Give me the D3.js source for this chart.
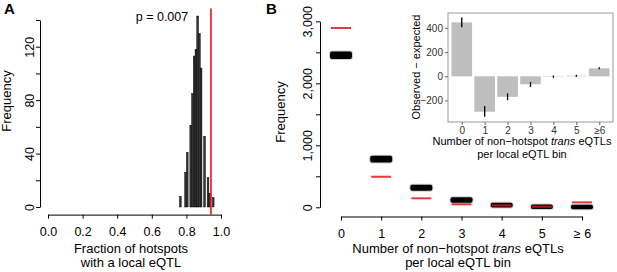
<!DOCTYPE html>
<html><head><meta charset="utf-8">
<script src="https://cdn.jsdelivr.net/npm/d3@7"></script>
<style>
body{margin:0;background:#fff;}
svg{font-family:"Liberation Sans",Arial,Helvetica,sans-serif;}
</style></head>
<body><svg id="c" width="617" height="272"></svg>
<script>
// ---------- Panel A data ----------
const histBinStarts = [0.75,0.76,0.77,0.78,0.79,0.80,0.81,0.82,0.83,0.84,0.85,0.86,0.87,0.88,0.89,0.90,0.91,0.92,0.93,0.94,0.95];
const histCounts    = [0,   8,   0,   0,   26,  41,  0,   61,  85,  113, 118, 143, 130, 104, 0,   53,  0,   22,  10,  0,   7];
const histBinWidth = 0.01;
const observedFraction = 0.942;
const pValueLabel = "p = 0.007";
const aXTicks = [0,0.2,0.4,0.6,0.8,1.0];
const aYTicks = [0,20,40,60,80,100,120,140];
const aYLabels = [0,40,80,120];

// ---------- Panel B data ----------
const bCategories = ["0","1","2","3","4","5","\u2265 6"];
const permutedMin = [2425,755,300,106,28,3,1];
const permutedMax = [2480,800,332,130,42,14,10];
const observedCounts = [2892,493,145,48,30,10,80];
const bYTicks = [0,500,1000,1500,2000,2500,3000];
const bYLabels = [0,1000,2000,3000];

// ---------- Inset data ----------
const insetCategories = ["0","1","2","3","4","5","\u22656"];
const diffValues = [447,-294,-170,-66,-3,5,66];
const diffLow    = [406,-335,-198,-88,-12,-3,58];
const diffHigh   = [488,-247,-142,-47,6,13,76];
const insetYTicks = [-200,0,200,400];

const svg = d3.select("#c");
const FS = 13;

// ================= Panel A =================
const xA = d3.scaleLinear().domain([0,1]).range([48,221]);
const yA = d3.scaleLinear().domain([0,140]).range([207,20]);
const aPlotBottom = yA(-5.7), aPlotTop = yA(148.7);

const gA = svg.append("g");
gA.selectAll("rect.bar").data(histBinStarts).join("rect")
  .attr("x", d=>xA(d)).attr("width", d=>xA(d+histBinWidth)-xA(d))
  .attr("y", (d,i)=>yA(histCounts[i])).attr("height",(d,i)=>yA(0)-yA(histCounts[i]))
  .attr("fill","#333").attr("stroke","#000").attr("stroke-width",0.45);

gA.append("line").attr("x1",xA(observedFraction)).attr("x2",xA(observedFraction))
  .attr("y1",aPlotTop).attr("y2",aPlotBottom).attr("stroke","#e8141b").attr("stroke-width",1.6);

gA.append("text").attr("x",162).attr("y",21).attr("text-anchor","middle")
  .attr("font-size",12.5).text(pValueLabel);

const axA_x = gA.append("g").attr("transform",`translate(0,${aPlotBottom})`)
  .call(d3.axisBottom(xA).tickValues(aXTicks).tickFormat(d3.format(".1f")).tickSize(4).tickSizeOuter(0).tickPadding(9));
const axA_y = gA.append("g").attr("transform",`translate(40,0)`)
  .call(d3.axisLeft(yA).tickValues(aYTicks).tickFormat(d=>aYLabels.includes(d)?d:"").tickSize(4).tickSizeOuter(0));
axA_y.selectAll("text").attr("transform","rotate(-90)").attr("x",0).attr("y",-6).attr("dy",0).attr("text-anchor","middle");

gA.append("text").attr("transform","translate(11,101) rotate(-90)").attr("text-anchor","middle")
  .attr("font-size",FS).text("Frequency");
gA.append("text").attr("x",131).attr("y",253).attr("text-anchor","middle").attr("font-size",FS).text("Fraction of hotspots");
gA.append("text").attr("x",131).attr("y",267).attr("text-anchor","middle").attr("font-size",FS).text("with a local eQTL");
svg.append("text").attr("x",4).attr("y",14).attr("font-size",15).attr("font-weight","bold").text("A");

// ================= Panel B =================
const xB = d3.scaleLinear().domain([0,6]).range([341,582]);
const yB = d3.scaleLinear().domain([0,3000]).range([207.3,21.3]);
const gB = svg.append("g");
const halfW = 11;

// soft halo of the many overlapping permutation lines
gB.selectAll("rect.halo").data(bCategories).join("rect")
  .attr("x",(d,i)=>xB(i)-halfW+2).attr("width",2*halfW-4)
  .attr("y",(d,i)=>yB(permutedMax[i])).attr("height",(d,i)=>Math.max(0.1,yB(permutedMin[i])-yB(permutedMax[i])))
  .attr("fill","#777").attr("stroke","#777").attr("stroke-width",6).attr("stroke-linejoin","round").attr("opacity",0.35);
gB.selectAll("rect.perm").data(bCategories).join("rect")
  .attr("x",(d,i)=>xB(i)-halfW+2).attr("width",2*halfW-4)
  .attr("y",(d,i)=>yB(permutedMax[i])).attr("height",(d,i)=>Math.max(0.1,yB(permutedMin[i])-yB(permutedMax[i])))
  .attr("fill","#000").attr("stroke","#000").attr("stroke-width",4).attr("stroke-linejoin","round");

gB.selectAll("line.obs").data(bCategories).join("line")
  .attr("x1",(d,i)=>xB(i)-10).attr("x2",(d,i)=>xB(i)+10)
  .attr("y1",(d,i)=>yB(observedCounts[i])).attr("y2",(d,i)=>yB(observedCounts[i]))
  .attr("stroke","#e8141b").attr("stroke-width",2).attr("opacity",0.85);

const axB_x = gB.append("g").attr("transform",`translate(0,216.5)`)
  .call(d3.axisBottom(xB).tickValues(d3.range(7)).tickFormat(i=>bCategories[i]).tickSize(4).tickSizeOuter(0).tickPadding(9));
const axB_y = gB.append("g").attr("transform",`translate(320,0)`)
  .call(d3.axisLeft(yB).tickValues(bYTicks).tickFormat(d=>bYLabels.includes(d)?d3.format(",")(d):"").tickSize(4).tickSizeOuter(0));
axB_y.selectAll("text").attr("transform","rotate(-90)").attr("x",0).attr("y",-8).attr("dy",0).attr("text-anchor","middle");

gB.append("text").attr("transform","translate(285,112) rotate(-90)").attr("text-anchor","middle")
  .attr("font-size",FS).text("Frequency");
const tB = gB.append("text").attr("x",458).attr("y",253).attr("text-anchor","middle").attr("font-size",FS);
tB.append("tspan").text("Number of non\u2212hotspot ");
tB.append("tspan").attr("font-style","italic").text("trans");
tB.append("tspan").text(" eQTLs");
gB.append("text").attr("x",458).attr("y",267).attr("text-anchor","middle").attr("font-size",FS).text("per local eQTL bin");
svg.append("text").attr("x",266).attr("y",14).attr("font-size",15).attr("font-weight","bold").text("B");

// ================= Inset =================
const xI = d3.scalePoint().domain(insetCategories).range([448,613]).padding(0.6);
const yI = d3.scaleLinear().domain([-379,525]).range([122,13]);
const gI = svg.append("g");
const bw = xI.step()*0.9;
gI.append("rect").attr("x",448).attr("y",13).attr("width",165).attr("height",109).attr("fill","#fff");
gI.selectAll("rect.ib").data(insetCategories).join("rect")
  .attr("x",d=>xI(d)-bw/2).attr("width",bw)
  .attr("y",(d,i)=>Math.min(yI(0),yI(diffValues[i]))).attr("height",(d,i)=>Math.abs(yI(diffValues[i])-yI(0)))
  .attr("fill","#bebebe");
gI.selectAll("line.err").data(insetCategories).join("line")
  .attr("x1",d=>xI(d)).attr("x2",d=>xI(d))
  .attr("y1",(d,i)=>yI(diffLow[i])).attr("y2",(d,i)=>yI(diffHigh[i]))
  .attr("stroke","#000").attr("stroke-width",1.3);
gI.append("rect").attr("x",448).attr("y",13).attr("width",165).attr("height",109)
  .attr("fill","none").attr("stroke","#999").attr("stroke-width",1);

const axI_y = gI.append("g").attr("transform","translate(448,0)")
  .call(d3.axisLeft(yI).tickValues(insetYTicks).tickFormat(d=>d<0?"\u2212"+Math.abs(d):d).tickSize(3).tickSizeOuter(0).tickPadding(2));
axI_y.select(".domain").remove();
axI_y.selectAll("text").attr("font-size",10).attr("fill","#333");
axI_y.selectAll("line").attr("stroke","#666");
const axI_x = gI.append("g").attr("transform","translate(0,122)")
  .call(d3.axisBottom(xI).tickSize(3).tickSizeOuter(0).tickPadding(2));
axI_x.select(".domain").remove();
axI_x.selectAll("text").attr("font-size",10).attr("fill","#333");
axI_x.selectAll("line").attr("stroke","#666");

gI.append("text").attr("transform","translate(420,67) rotate(-90)").attr("text-anchor","middle")
  .attr("font-size",11).text("Observed \u2212 expected");
const tI = gI.append("text").attr("x",522).attr("y",145).attr("text-anchor","middle").attr("font-size",11);
tI.append("tspan").text("Number of non\u2212hotspot ");
tI.append("tspan").attr("font-style","italic").text("trans");
tI.append("tspan").text(" eQTLs");
gI.append("text").attr("x",522).attr("y",158).attr("text-anchor","middle").attr("font-size",11).text("per local eQTL bin");

// R-like axis text
svg.selectAll(".tick text").filter(function(){return !this.getAttribute("font-size");}).attr("font-size",12.5);
svg.selectAll("g").attr("font-family",null).attr("font-size",null);
</script></body></html>
